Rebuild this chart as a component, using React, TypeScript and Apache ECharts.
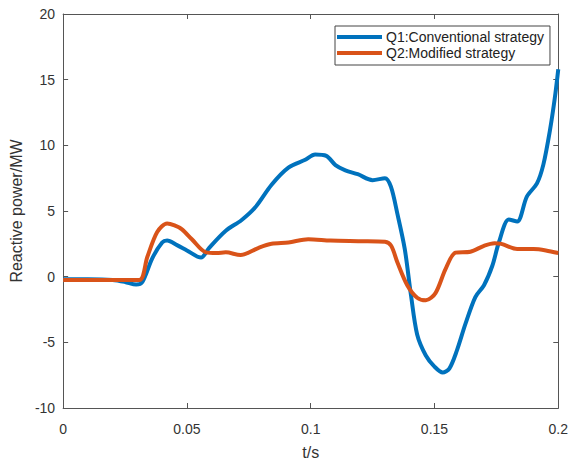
import React, { useEffect, useRef } from "react";
import * as echarts from "echarts";

const tQ1 = [0, 0.01, 0.02, 0.025, 0.0295, 0.032, 0.036, 0.040, 0.042, 0.046, 0.050, 0.0557, 0.059, 0.0657, 0.072, 0.0777, 0.0842, 0.091, 0.0978, 0.1018, 0.1063, 0.110, 0.114, 0.119, 0.125, 0.130, 0.1324, 0.135, 0.138, 0.1405, 0.143, 0.1465, 0.150, 0.1533, 0.156, 0.159, 0.1625, 0.1665, 0.170, 0.1734, 0.176, 0.180, 0.1834, 0.1873, 0.1914, 0.194, 0.1966, 0.1986, 0.2];
const vQ1 = [-0.2, -0.2, -0.25, -0.4, -0.6, -0.4, 1.4, 2.6, 2.75, 2.4, 2.0, 1.45, 2.2, 3.5, 4.3, 5.3, 7.0, 8.3, 8.9, 9.3, 9.2, 8.5, 8.1, 7.8, 7.35, 7.5, 6.85, 4.8, 2.1, -1.4, -4.4, -6.0, -6.85, -7.3, -7.0, -5.65, -3.6, -1.55, -0.65, 0.85, 2.6, 4.35, 4.2, 6.1, 7.1, 8.55, 11.1, 13.6, 15.8];

const tQ2 = [0, 0.02, 0.0308, 0.034, 0.038, 0.042, 0.045, 0.048, 0.052, 0.0577, 0.062, 0.0657, 0.0717, 0.079, 0.0842, 0.091, 0.099, 0.108, 0.12, 0.130, 0.1325, 0.135, 0.139, 0.143, 0.1465, 0.1504, 0.1545, 0.1585, 0.1645, 0.170, 0.1742, 0.177, 0.1834, 0.190, 0.195, 0.2];
const vQ2 = [-0.25, -0.25, -0.25, 1.5, 3.4, 4.05, 3.9, 3.6, 2.85, 1.85, 1.8, 1.85, 1.65, 2.2, 2.5, 2.6, 2.85, 2.75, 2.7, 2.65, 2.35, 1.1, -0.65, -1.6, -1.8, -1.25, 0.6, 1.83, 1.9, 2.35, 2.55, 2.5, 2.1, 2.1, 2.0, 1.8];

const seriesNames = ["Q1:Conventional strategy", "Q2:Modified strategy"];
const xTitle = "t/s";
const yTitle = "Reactive power/MW";

export default function App() {
  const ref = useRef<HTMLDivElement>(null);
  useEffect(() => {
    if (!ref.current) return;
    const chart = echarts.init(ref.current, undefined, { renderer: "svg" });
    const font = "'Liberation Sans', Arial, sans-serif";
    const axisColor = "#555";
    const labelColor = "#333";
    const xCommon = {
      type: "value" as const,
      min: 0,
      max: 0.2,
      interval: 0.05,
      splitLine: { show: false },
      axisLine: { show: true, onZero: false, lineStyle: { color: axisColor, width: 1 } },
      axisTick: { show: true, inside: true, length: 5, lineStyle: { color: axisColor } },
    };
    const yCommon = {
      type: "value" as const,
      min: -10,
      max: 20,
      interval: 5,
      splitLine: { show: false },
      axisLine: { show: true, onZero: false, lineStyle: { color: axisColor, width: 1 } },
      axisTick: { show: true, inside: true, length: 5, lineStyle: { color: axisColor } },
    };
    chart.setOption({
      animation: false,
      backgroundColor: "#fff",
      textStyle: { fontFamily: font },
      grid: { left: 63, right: 10, top: 14, bottom: 51 },
      legend: {
        orient: "vertical",
        left: 335,
        top: 26,
        padding: [4, 6, 5, 2],
        itemGap: 2,
        itemWidth: 45,
        itemHeight: 4,
        icon: "rect",
        borderColor: "#444",
        borderWidth: 1,
        backgroundColor: "#fff",
        textStyle: { fontSize: 14, color: "#222", fontFamily: font, padding: [0, 0, 0, -1] },
        data: seriesNames,
      },
      xAxis: [
        {
          ...xCommon,
          position: "bottom",
          name: xTitle,
          nameLocation: "middle",
          nameGap: 36,
          nameTextStyle: { fontSize: 16, color: labelColor, fontFamily: font },
          axisLabel: {
            fontSize: 14,
            color: labelColor,
            margin: 14,
            fontFamily: font,
            formatter: (v: number) => String(parseFloat(v.toFixed(3))),
          },
        },
        { ...xCommon, position: "top", axisLabel: { show: false } },
      ],
      yAxis: [
        {
          ...yCommon,
          position: "left",
          name: yTitle,
          nameLocation: "middle",
          nameGap: 35,
          nameTextStyle: { fontSize: 16, color: labelColor, fontFamily: font },
          axisLabel: { fontSize: 14, color: labelColor, margin: 8, fontFamily: font },
        },
        { ...yCommon, position: "right", axisLabel: { show: false } },
      ],
      series: [
        {
          name: seriesNames[0],
          type: "line",
          xAxisIndex: 0,
          yAxisIndex: 0,
          data: tQ1.map((t, i) => [t, vQ1[i]]),
          showSymbol: false,
          smooth: 0.3,
          lineStyle: { color: "#0072BD", width: 4 },
          itemStyle: { color: "#0072BD" },
          z: 2,
        },
        {
          name: seriesNames[1],
          type: "line",
          xAxisIndex: 0,
          yAxisIndex: 0,
          data: tQ2.map((t, i) => [t, vQ2[i]]),
          showSymbol: false,
          smooth: 0.3,
          lineStyle: { color: "#D95319", width: 4 },
          itemStyle: { color: "#D95319" },
          z: 3,
        },
      ],
    });
    return () => chart.dispose();
  }, []);
  return (
    <div
      ref={ref}
      style={{ position: "fixed", left: 0, top: 0, width: 571, height: 465, background: "#fff" }}
    />
  );
}
